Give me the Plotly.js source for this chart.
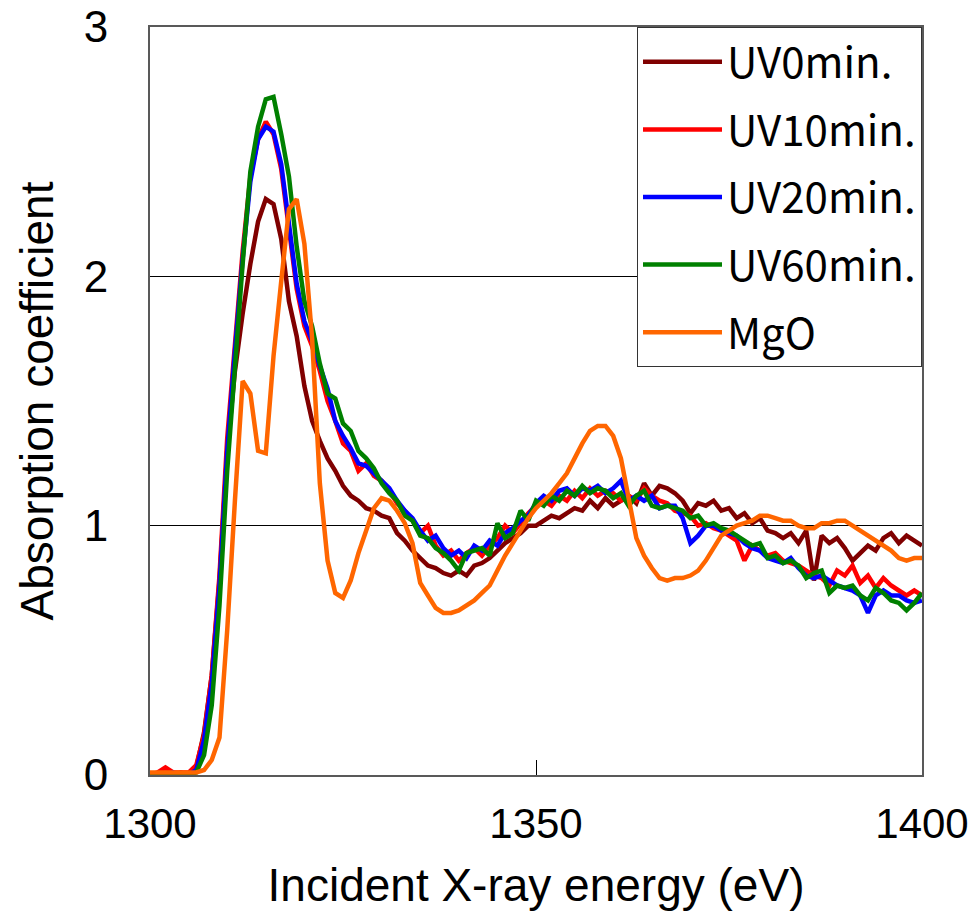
<!DOCTYPE html>
<html>
<head>
<meta charset="utf-8">
<script src="https://cdn.plot.ly/plotly-3.0.1.min.js"></script>
<style>html,body{margin:0;padding:0;background:#fff;}</style>
</head>
<body>
<div id="chart" style="width:976px;height:918px;"></div>
<script>
// Incident X-ray energy (eV)
var energy = [1300,1301,1302,1303,1304,1305,1306,1307,1308,1309,
1310,1311,1312,1313,1314,1315,1316,1317,1318,1319,
1320,1321,1322,1323,1324,1325,1326,1327,1328,1329,
1330,1331,1332,1333,1334,1335,1336,1337,1338,1339,
1340,1341,1342,1343,1344,1345,1346,1347,1348,1349,
1350,1351,1352,1353,1354,1355,1356,1357,1358,1359,
1360,1361,1362,1363,1364,1365,1366,1367,1368,1369,
1370,1371,1372,1373,1374,1375,1376,1377,1378,1379,
1380,1381,1382,1383,1384,1385,1386,1387,1388,1389,
1390,1391,1392,1393,1394,1395,1396,1397,1398,1399,1400];

var uv0 = [0.00,0.00,0.01,0.00,0.01,0.00,0.03,0.17,0.40,0.78,
1.30,1.62,1.85,2.05,2.22,2.31,2.29,2.15,1.90,1.76,
1.56,1.42,1.34,1.27,1.22,1.16,1.12,1.10,1.07,1.06,
1.04,1.03,0.97,0.94,0.90,0.87,0.84,0.83,0.81,0.80,
0.82,0.80,0.84,0.85,0.87,0.90,0.93,0.95,0.97,1.00,
1.00,1.02,1.04,1.03,1.05,1.07,1.06,1.10,1.07,1.11,
1.08,1.10,1.12,1.09,1.17,1.12,1.16,1.15,1.13,1.10,
1.05,1.09,1.08,1.10,1.06,1.07,1.03,1.05,1.01,1.03,
0.98,0.97,0.95,0.97,0.93,0.98,0.78,0.96,0.93,0.95,
0.91,0.86,0.89,0.92,0.90,0.95,0.97,0.93,0.96,0.94,0.92];

var uv10 = [0.00,0.01,0.03,0.01,0.01,0.01,0.04,0.16,0.40,0.80,
1.35,1.72,2.10,2.40,2.55,2.62,2.57,2.43,2.20,1.95,
1.80,1.72,1.62,1.50,1.42,1.33,1.30,1.22,1.25,1.20,
1.18,1.14,1.09,1.06,1.02,0.97,1.00,0.92,0.88,0.90,
0.86,0.89,0.91,0.88,0.92,0.95,1.00,0.97,1.01,1.05,
1.08,1.10,1.08,1.12,1.10,1.14,1.11,1.15,1.12,1.14,
1.13,1.10,1.12,1.10,1.15,1.12,1.10,1.09,1.06,1.05,
1.04,1.00,1.01,0.99,0.98,0.96,0.94,0.86,0.92,0.90,
0.88,0.89,0.86,0.85,0.84,0.82,0.80,0.79,0.76,0.82,
0.80,0.84,0.77,0.80,0.75,0.79,0.76,0.74,0.72,0.74,0.72];

var uv20 = [0.00,0.00,0.00,0.01,0.00,0.00,0.02,0.14,0.37,0.76,
1.30,1.70,2.07,2.38,2.55,2.60,2.58,2.45,2.22,1.97,
1.82,1.74,1.64,1.55,1.42,1.36,1.31,1.25,1.24,1.21,
1.18,1.15,1.10,1.06,1.03,0.98,0.94,0.96,0.91,0.88,
0.90,0.87,0.92,0.90,0.94,0.92,0.97,0.99,1.02,1.04,
1.09,1.12,1.10,1.14,1.15,1.12,1.15,1.14,1.16,1.13,
1.15,1.18,1.10,1.12,1.10,1.12,1.07,1.08,1.08,1.03,
0.93,0.96,1.00,1.00,0.98,0.97,0.96,0.93,0.91,0.90,
0.87,0.86,0.85,0.87,0.83,0.80,0.79,0.80,0.78,0.76,
0.75,0.74,0.72,0.65,0.72,0.74,0.72,0.72,0.70,0.69,0.70];

var uv60 = [0.00,0.00,0.00,0.00,0.00,0.00,0.01,0.08,0.28,0.68,
1.22,1.65,2.05,2.42,2.60,2.71,2.72,2.57,2.40,2.12,
1.90,1.80,1.65,1.53,1.51,1.41,1.38,1.30,1.27,1.23,
1.17,1.13,1.10,1.04,1.02,0.96,0.95,0.91,0.89,0.86,
0.82,0.89,0.90,0.91,0.88,1.01,0.95,0.97,1.06,1.02,
1.10,1.08,1.12,1.10,1.14,1.12,1.16,1.13,1.15,1.14,
1.11,1.13,1.08,1.12,1.14,1.08,1.07,1.08,1.07,1.06,
1.03,1.04,1.00,1.01,0.99,0.98,0.96,0.94,0.92,0.93,
0.87,0.88,0.85,0.86,0.84,0.79,0.81,0.82,0.73,0.76,
0.75,0.76,0.72,0.70,0.75,0.73,0.70,0.69,0.66,0.69,0.73];

var mgo = [0.01,0.01,0.01,0.01,0.01,0.01,0.01,0.02,0.06,0.15,
0.58,1.10,1.58,1.53,1.30,1.29,1.68,1.98,2.27,2.31,
2.13,1.75,1.17,0.86,0.73,0.71,0.78,0.89,0.98,1.07,
1.11,1.10,1.06,1.01,0.93,0.77,0.72,0.67,0.65,0.65,
0.66,0.68,0.70,0.73,0.76,0.82,0.88,0.93,0.98,1.03,
1.07,1.10,1.13,1.17,1.21,1.27,1.33,1.38,1.40,1.40,
1.36,1.27,1.10,0.95,0.88,0.83,0.79,0.78,0.79,0.79,
0.80,0.82,0.86,0.91,0.96,0.98,1.00,1.01,1.02,1.04,
1.04,1.03,1.02,1.02,1.00,0.99,0.99,1.01,1.01,1.02,
1.02,1.00,0.98,0.96,0.94,0.92,0.90,0.87,0.86,0.87,0.87];

var seriesNames = ['UV0min.','UV10min.','UV20min.','UV60min.','MgO'];
var seriesColors = ['#800000','#FF0000','#0000FF','#008000','#FF6600'];
var seriesValues = [uv0, uv10, uv20, uv60, mgo];

var xTickVals = [1300, 1350, 1400];
var xTickText = ['1300', '1350', '1400'];
var yTickVals = [0, 1, 2, 3];
var yTickText = ['0', '1', '2', '3'];

var traces = seriesValues.map(function(vals, i) {
  return {
    x: energy, y: vals, type: 'scatter', mode: 'lines',
    name: seriesNames[i], legendgroup: 'g' + i,
    line: {color: seriesColors[i], width: 4.5}
  };
});

var sansFont = 'Liberation Sans, Arial, sans-serif';

var layout = {
  width: 976, height: 918,
  margin: {l: 150, r: 54, t: 27, b: 143},
  paper_bgcolor: '#fff', plot_bgcolor: '#fff',
  showlegend: true,
  legend: {
    x: 1, xanchor: 'right', y: 1, yanchor: 'top',
    bgcolor: '#fff', bordercolor: '#333', borderwidth: 1,
    font: {family: 'Noto Sans CJK JP, sans-serif', size: 42, color: '#000'},
    traceorder: 'grouped', tracegroupgap: 10, itemwidth: 79
  },
  xaxis: {
    range: [1300, 1400], tickvals: xTickVals, ticktext: xTickText,
    ticks: 'inside', ticklen: 15, tickwidth: 1, tickcolor: '#000',
    showgrid: false, zeroline: false,
    showline: true, linecolor: '#595959', linewidth: 2, mirror: true,
    tickfont: {family: sansFont, size: 42, color: '#000'},
    ticklabelstandoff: 11, automargin: false,
    title: {text: 'Incident X-ray energy (eV)', font: {family: sansFont, size: 46, color: '#000'}, standoff: 22}
  },
  yaxis: {
    range: [0, 3], tickvals: yTickVals, ticktext: yTickText,
    ticks: '', showgrid: true, gridcolor: '#000', gridwidth: 1,
    zeroline: false,
    showline: true, linecolor: '#595959', linewidth: 2, mirror: true,
    tickfont: {family: sansFont, size: 44, color: '#000'},
    ticklabelstandoff: 31, automargin: false,
    title: {text: 'Absorption coefficient', font: {family: sansFont, size: 46, color: '#000'}, standoff: 16}
  }
};

Plotly.newPlot('chart', traces, layout, {displayModeBar: false, staticPlot: true});
</script>
</body>
</html>
